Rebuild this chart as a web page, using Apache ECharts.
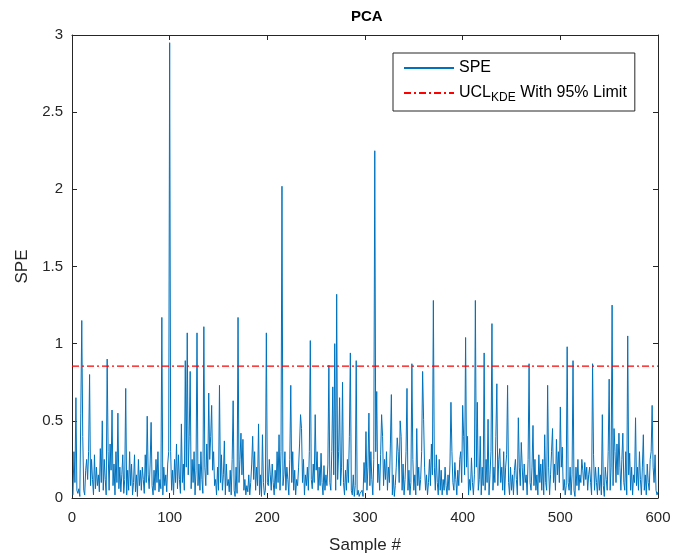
<!DOCTYPE html>
<html>
<head>
<meta charset="utf-8">
<script src="https://cdn.jsdelivr.net/npm/echarts@6/dist/echarts.min.js"></script>
<style>
  html, body { margin: 0; padding: 0; background: #fff; }
  #pca { width: 674px; height: 557px; }
</style>
</head>
<body>
<div id="pca"></div>
<script>
// SPE statistic per sample (samples 1..600)
const spe = [
  0.02, 0.30, 0.10, 0.65, 0.05, 0.03, 0.06, 0.01, 0.55, 1.15,
  0.40, 0.05, 0.02, 0.18, 0.25, 0.12, 0.30, 0.80, 0.08, 0.25,
  0.12, 0.02, 0.28, 0.06, 0.20, 0.08, 0.15, 0.04, 0.32, 0.10,
  0.50, 0.05, 0.25, 0.12, 0.02, 0.90, 0.30, 0.05, 0.35, 0.18,
  0.57, 0.08, 0.22, 0.02, 0.30, 0.10, 0.55, 0.06, 0.20, 0.04,
  0.15, 0.28, 0.03, 0.12, 0.71, 0.02, 0.18, 0.05, 0.30, 0.08,
  0.22, 0.02, 0.10, 0.28, 0.04, 0.15, 0.01, 0.25, 0.08, 0.18,
  0.05, 0.20, 0.12, 0.03, 0.28, 0.10, 0.53, 0.15, 0.06, 0.22,
  0.49, 0.08, 0.02, 0.18, 0.05, 0.25, 0.10, 0.30, 0.04, 0.12,
  0.06, 1.17, 0.02, 0.20, 0.08, 0.15, 0.04, 0.22, 0.30, 2.95,
  0.30, 0.05, 0.18, 0.02, 0.25, 0.10, 0.35, 0.06, 0.28, 0.12,
  0.03, 0.48, 0.10, 0.22, 0.05, 0.89, 0.20, 1.07, 0.15, 0.40,
  0.82, 0.06, 0.25, 0.10, 0.30, 0.02, 0.18, 1.07, 0.08, 0.22,
  0.05, 0.30, 0.12, 0.03, 1.11, 0.20, 0.08, 0.35, 0.15, 0.68,
  0.25, 0.40, 0.60, 0.18, 0.30, 0.08, 0.12, 0.02, 0.20, 0.05,
  0.73, 0.10, 0.28, 0.05, 0.15, 0.37, 0.02, 0.22, 0.08, 0.12,
  0.04, 0.18, 0.02, 0.25, 0.63, 0.05, 0.01, 0.20, 0.03, 1.17,
  0.10, 0.25, 0.42, 0.15, 0.38, 0.05, 0.12, 0.02, 0.08, 0.04,
  0.15, 0.02, 0.10, 0.22, 0.40, 0.12, 0.30, 0.05, 0.20, 0.08,
  0.48, 0.02, 0.15, 0.01, 0.41, 0.10, 0.02, 0.05, 1.07, 0.10,
  0.08, 0.25, 0.15, 0.05, 0.22, 0.10, 0.02, 0.18, 0.06, 0.30,
  0.10, 0.41, 0.05, 0.30, 2.02, 0.08, 0.15, 0.30, 0.05, 0.20,
  0.12, 0.02, 0.25, 0.73, 0.10, 0.30, 0.05, 0.18, 0.02, 0.12,
  0.08, 0.20, 0.35, 0.54, 0.45, 0.10, 0.25, 0.02, 0.15, 0.08,
  0.20, 0.05, 0.30, 1.02, 0.12, 0.06, 0.22, 0.10, 0.54, 0.18,
  0.30, 0.05, 0.20, 0.08, 0.29, 0.10, 0.02, 0.21, 0.05, 0.15,
  0.08, 0.22, 0.86, 0.10, 0.05, 0.30, 0.72, 0.15, 1.00, 0.05,
  1.32, 0.12, 0.30, 0.65, 0.08, 0.20, 0.75, 0.10, 0.02, 0.18,
  0.05, 0.25, 0.10, 0.40, 0.94, 0.05, 0.02, 0.15, 0.01, 0.08,
  0.89, 0.02, 0.05, 0.01, 0.03, 0.02, 0.05, 0.01, 0.23, 0.10,
  0.43, 0.05, 0.20, 0.55, 0.08, 0.30, 0.12, 0.02, 0.25, 2.25,
  0.30, 0.69, 0.10, 0.22, 0.05, 0.28, 0.54, 0.40, 0.08, 0.25,
  0.12, 0.30, 0.05, 0.20, 0.10, 0.35, 0.67, 0.02, 0.15, 0.01,
  0.08, 0.20, 0.39, 0.30, 0.10, 0.50, 0.40, 0.05, 0.22, 0.02,
  0.12, 0.30, 0.71, 0.05, 0.18, 0.02, 0.10, 0.87, 0.25, 0.05,
  0.15, 0.02, 0.45, 0.08, 0.20, 0.05, 0.12, 0.30, 0.82, 0.51,
  0.20, 0.05, 0.15, 0.02, 0.10, 0.25, 0.08, 0.35, 0.15, 1.28,
  0.20, 0.05, 0.28, 0.10, 0.02, 0.25, 0.05, 0.18, 0.02, 0.12,
  0.05, 0.20, 0.08, 0.02, 0.15, 0.05, 0.22, 0.62, 0.30, 0.10,
  0.05, 0.23, 0.12, 0.02, 0.18, 0.08, 0.25, 0.30, 0.10, 0.60,
  0.40, 0.15, 1.04, 0.20, 0.40, 0.02, 0.12, 0.05, 0.26, 0.10,
  0.02, 0.15, 1.28, 0.20, 0.62, 0.05, 0.12, 0.40, 0.02, 0.20,
  0.08, 0.94, 0.05, 0.25, 0.10, 0.51, 0.02, 0.15, 0.30, 1.13,
  0.05, 0.20, 0.10, 0.40, 0.74, 0.08, 0.25, 0.32, 0.10, 0.20,
  0.05, 0.30, 0.02, 0.20, 0.28, 0.73, 0.10, 0.02, 0.20, 0.05,
  0.15, 0.02, 0.18, 0.25, 0.12, 0.02, 0.52, 0.20, 0.08, 0.36,
  0.20, 0.05, 0.22, 0.10, 0.15, 0.02, 0.25, 0.87, 0.10, 0.05,
  0.20, 0.47, 0.08, 0.25, 0.05, 0.15, 0.02, 0.28, 0.10, 0.22,
  0.05, 0.25, 0.02, 0.41, 0.10, 0.05, 0.73, 0.20, 0.02, 0.15,
  0.30, 0.45, 0.10, 0.22, 0.05, 0.38, 0.15, 0.30, 0.10, 0.59,
  0.20, 0.33, 0.05, 0.12, 0.02, 0.08, 0.98, 0.10, 0.05, 0.20,
  0.02, 0.15, 0.89, 0.05, 0.01, 0.20, 0.08, 0.25, 0.05, 0.15,
  0.10, 0.25, 0.18, 0.08, 0.23, 0.12, 0.20, 0.05, 0.15, 0.20,
  0.10, 0.02, 0.87, 0.28, 0.05, 0.20, 0.10, 0.02, 0.20, 0.05,
  0.15, 0.02, 0.54, 0.08, 0.01, 0.20, 0.12, 0.05, 0.30, 0.77,
  0.05, 0.20, 1.25, 0.08, 0.45, 0.30, 0.10, 0.35, 0.15, 0.42,
  0.20, 0.05, 0.25, 0.42, 0.10, 0.05, 0.30, 0.02, 1.05, 0.15,
  0.29, 0.05, 0.20, 0.02, 0.15, 0.10, 0.52, 0.08, 0.20, 0.05,
  0.30, 0.12, 0.02, 0.20, 0.41, 0.05, 0.15, 0.02, 0.22, 0.10,
  0.05, 0.25, 0.30, 0.60, 0.20, 0.10, 0.28, 0.05, 0.02, 0.04
];
const uclKde = 0.855;
const xRange = [0, 600];
const yTicks = [0, 0.5, 1, 1.5, 2, 2.5, 3];

const axisColor = '#262626';
const fontFamily = '"Liberation Sans", Arial, sans-serif';

// MATLAB style box: every side gets a line and inward ticks
const boxAxis = (extra) => Object.assign({
  axisLine: { show: true, onZero: false, lineStyle: { color: axisColor, width: 1 } },
  axisTick: { show: true, inside: true, length: 5, lineStyle: { color: axisColor } },
  splitLine: { show: false }
}, extra);

const option = {
  animation: false,
  backgroundColor: '#fff',
  title: {
    text: 'PCA',
    left: 346,
    top: 4,
    textStyle: { fontFamily, fontSize: 15, fontWeight: 'bold', color: '#000' }
  },
  legend: {
    orient: 'vertical',
    left: 393,
    top: 53,
    padding: [7, 8, 7, 10],
    itemGap: 9,
    itemWidth: 50,
    itemHeight: 14,
    itemStyle: { color: 'transparent', borderColor: 'transparent', borderWidth: 0 },
    backgroundColor: '#fff',
    borderColor: axisColor,
    borderWidth: 1,
    textStyle: {
      fontFamily, fontSize: 16, color: '#000',
      rich: {
        a: { fontFamily, fontSize: 16, color: '#000' },
        sub: { fontFamily, fontSize: 12, color: '#000', padding: [10, 0, 0, 0] }
      }
    },
    formatter: (name) => name === 'UCL'
      ? '{a|UCL}{sub|KDE}{a| With 95% Limit}'
      : name,
    data: ['SPE', 'UCL']
  },
  grid: { left: 72, right: 16, top: 35, bottom: 59, outerBoundsMode: 'none' },
  xAxis: [
    boxAxis({
      type: 'value', min: xRange[0], max: xRange[1], interval: 100,
      name: 'Sample #', nameLocation: 'middle', nameGap: 39,
      nameTextStyle: { fontFamily, fontSize: 17, color: axisColor },
      axisLabel: { fontFamily, fontSize: 15, color: axisColor, margin: 12 }
    }),
    boxAxis({
      type: 'value', position: 'top', min: xRange[0], max: xRange[1], interval: 100,
      axisLabel: { show: false }
    })
  ],
  yAxis: [
    boxAxis({
      type: 'value', min: 0, max: 3, interval: 0.5,
      name: 'SPE', nameLocation: 'middle', nameGap: 40,
      nameTextStyle: { fontFamily, fontSize: 17, color: axisColor },
      axisLabel: {
        fontFamily, fontSize: 15, color: axisColor, margin: 9,
        formatter: (v) => yTicks.includes(v) ? String(v) : ''
      }
    }),
    boxAxis({
      type: 'value', position: 'right', min: 0, max: 3, interval: 0.5,
      axisLabel: { show: false }
    })
  ],
  series: [
    {
      name: 'SPE',
      type: 'line',
      data: spe.map((v, i) => [i + 1, v]),
      symbol: 'none',
      sampling: false,
      lineStyle: { color: '#0072BD', width: 1 },
      itemStyle: { color: '#0072BD' },
      z: 2
    },
    {
      name: 'UCL',
      type: 'line',
      data: [[xRange[0], uclKde], [xRange[1], uclKde]],
      symbol: 'none',
      lineStyle: { color: '#FF0000', width: 1.2, type: [7, 3, 2, 3] },
      itemStyle: { color: '#FF0000' },
      z: 3
    }
  ]
};

const chart = echarts.init(document.getElementById('pca'));
chart.setOption(option);
window.addEventListener('resize', () => chart.resize());
</script>
</body>
</html>
